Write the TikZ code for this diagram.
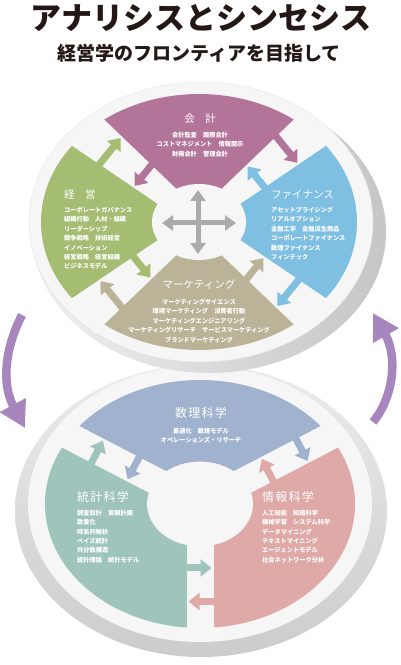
\documentclass[tikz,border=0pt]{standalone}
\usepackage{fontspec}
\setmainfont{Noto Sans CJK JP}
\newfontfamily\spaced[LetterSpace=10]{Noto Sans CJK JP}
\usetikzlibrary{arrows.meta,calc}
\definecolor{kaikei}{RGB}{179,116,154}
\definecolor{keiei}{RGB}{164,189,114}
\definecolor{finance}{RGB}{126,191,226}
\definecolor{mkt}{RGB}{186,179,151}
\definecolor{suuri}{RGB}{160,178,205}
\definecolor{toukei}{RGB}{158,196,187}
\definecolor{jouhou}{RGB}{222,169,167}
\definecolor{face}{RGB}{246,246,246}
\definecolor{cycclr}{RGB}{167,134,190}
\definecolor{ink}{RGB}{35,24,21}
\begin{document}
\begin{tikzpicture}[x=1pt,y=1pt,line join=round,
  ttl/.style={text=white,inner sep=0pt,font=\fontsize{10.5}{10.5}\selectfont},
  btl/.style={text=white,inner sep=0pt,font=\spaced\fontsize{12}{12}\selectfont},
  itm/.style={text=white,inner sep=0pt,font=\bfseries\fontsize{6.2}{9.4}\selectfont},
  gaparrow/.style={line width=7pt,-{Triangle[width=17pt,length=11pt]}},
  crossarrow/.style={gray!66,line width=5pt,{Triangle[width=15pt,length=11pt]}-{Triangle[width=15pt,length=11pt]}},
  cycarrow/.style={cycclr,line width=8.5pt,-{Triangle[width=28pt,length=26pt]}}]
\useasboundingbox (0,0) rectangle (400,665);
\node[text=ink,font=\bfseries\fontsize{31}{31}\selectfont] (title) at (201,647) {アナリシスとシンセシス};
\node[text=ink,font=\bfseries\fontsize{19}{19}\selectfont] (subtitle) at (199,612) {経営学のフロンティアを目指して};
% lower disc
\shade[top color=gray!15,bottom color=gray!40] (201,154) ellipse [x radius=186,y radius=146];
\fill[face] (200,161) ellipse [x radius=172,y radius=138];
\begin{scope}[shift={(200,161)},yscale=0.8]
\coordinate (C2) at (0,0);
\foreach \a/\e/\clr in {33/147/suuri,147/270/toukei,270/393/jouhou}
  \fill[\clr] (0,0) -- (\a:155) arc[start angle=\a,end angle=\e,radius=155] -- cycle;
\foreach \b in {33,147,270}{
  \coordinate (gi\b) at (\b:30); \coordinate (go\b) at (\b:162);
  \coordinate (ao\b) at (\b:122); \coordinate (ai\b) at (\b:80);}
\end{scope}
\foreach \b in {33,147,270}
  \fill[face] ($(gi\b)!13.5pt!90:(C2)$) -- ($(go\b)!13.5pt!90:(C2)$) -- ($(go\b)!13.5pt!-90:(C2)$) -- ($(gi\b)!13.5pt!-90:(C2)$) -- cycle;
\fill[face] (C2) ellipse [x radius=53,y radius=42.4];
\foreach \b/\co/\ci in {33/suuri/jouhou,147/toukei/suuri,270/jouhou/toukei}{
  \draw[gaparrow,\co] ($(ao\b)!24pt!-90:(C2)$) -- ($(ao\b)!11.5pt!90:(C2)$);
  \draw[gaparrow,\ci] ($(ai\b)!24pt!90:(C2)$) -- ($(ai\b)!11.5pt!-90:(C2)$);}
\node[btl] (suuriT) at (201,252) {数理科学};
\node[itm,align=center,anchor=north] (suuriL) at (201,237.2) {最適化　数理モデル\\オペレーションズ・リサーチ};
\node[btl,anchor=west] (toukeiT) at (77,168) {統計科学};
\node[itm,align=left,anchor=north west] (toukeiL) at (77,155.2) {調査設計　実験計画\\数量化\\時系列解析\\ベイズ統計\\共分散構造\\統計理論　統計モデル};
\node[btl,anchor=west] (jouhouT) at (262,168) {情報科学};
\node[itm,align=left,anchor=north west] (jouhouL) at (262,155.2) {人工知能　知識科学\\機械学習　システム科学\\データマイニング\\テキストマイニング\\エージェントモデル\\社会ネットワーク分析};
% upper disc
\shade[left color=gray!12,right color=gray!45] (209,433) ellipse [x radius=177,y radius=141];
\fill[face,draw=gray!20] (201,443) ellipse [x radius=172,y radius=140];
\begin{scope}[shift={(199,443)},yscale=0.81]
\coordinate (C1) at (0,0);
\foreach \c/\clr in {90/kaikei,180/keiei,0/finance,270/mkt}
  \fill[\clr] (0,0) -- (\c-45:158) arc[start angle=\c-45,end angle=\c+45,radius=158] -- cycle;
\foreach \b in {45,135,225,315}{
  \coordinate (gi\b) at (\b:30); \coordinate (go\b) at (\b:166);
  \coordinate (ao\b) at (\b:125); \coordinate (ai\b) at (\b:80);}
\end{scope}
\foreach \b in {45,135,225,315}
  \fill[face] ($(gi\b)!10.5pt!90:(C1)$) -- ($(go\b)!21pt!90:(C1)$) -- ($(go\b)!21pt!-90:(C1)$) -- ($(gi\b)!10.5pt!-90:(C1)$) -- cycle;
\fill[face] (C1) ellipse [x radius=47,y radius=38];
\foreach \b/\co/\ci in {45/kaikei/finance,135/keiei/kaikei,225/mkt/keiei,315/finance/mkt}{
  \draw[gaparrow,\co] ($(ao\b)!30pt!-90:(C1)$) -- ($(ao\b)!16pt!90:(C1)$);
  \draw[gaparrow,\ci] ($(ai\b)!26pt!90:(C1)$) -- ($(ai\b)!12.5pt!-90:(C1)$);}
\draw[crossarrow] ($(C1)+(-37,-1)$) -- ($(C1)+(37,-1)$);
\draw[crossarrow] ($(C1)+(-1,32)$) -- ($(C1)+(-1,-32)$);
\node[ttl] (kaikeiT) at (200,546) {会　計};
\node[itm,align=center,anchor=north] (kaikeiL) at (200,533.2) {会計監査　国際会計\\コストマネジメント　情報開示\\財務会計　管理会計};
\node[ttl,anchor=west] (keieiT) at (64,470) {経　営};
\node[itm,align=left,anchor=north west] (keieiL) at (64,458.2) {コーポレートガバナンス\\組織行動　人材・組織\\リーダーシップ\\競争戦略　技術経営\\イノベーション\\経営戦略　経営組織\\ビジネスモデル};
\node[ttl,anchor=west] (financeT) at (271,470) {ファイナンス};
\node[itm,align=left,anchor=north west] (financeL) at (271,458.2) {アセットプライシング\\リアルオプション\\金融工学　金融派生商品\\コーポレートファイナンス\\数理ファイナンス\\フィンテック};
\node[ttl] (mktT) at (199,380) {マーケティング};
\node[itm,align=center,anchor=north] (mktL) at (199,366.2) {マーケティングサイエンス\\環境マーケティング　消費者行動\\マーケティングエンジニアリング\\マーケティングリサーチ　サービスマーケティング\\ブランドマーケティング};
% cycle arrows
\draw[cycarrow] (22,350) .. controls (4,315) and (2,280) .. (25,237);
\draw[cycarrow] (373,243) .. controls (395,270) and (397,310) .. (373,352);
\end{tikzpicture}
\end{document}
